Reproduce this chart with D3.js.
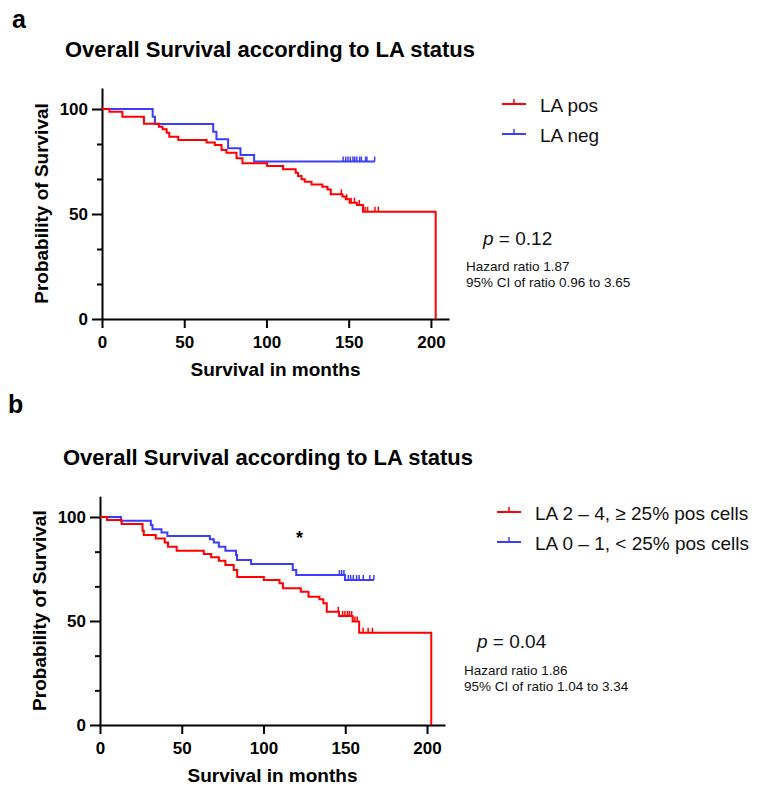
<!DOCTYPE html>
<html>
<head>
<meta charset="utf-8">
<script src="https://cdn.jsdelivr.net/npm/d3@7"></script>
<style>
  html, body { margin: 0; padding: 0; background: #fff; }
  svg { display: block; font-family: "Liberation Sans", Arial, sans-serif; }
</style>
</head>
<body>
<svg id="chart" width="758" height="794"></svg>
<script>
// ---------------- DATA ----------------
const xTicks = [0, 50, 100, 150, 200];
const yTicks = [0, 50, 100];
const yMinorTicks = [16.67, 33.33, 66.67, 83.33];

// Panel a — LA pos (red)
const aPosTimes = [0, 4.5, 12.4, 25.5, 34.6, 36.8, 39.3, 40.9, 46.4, 63.6, 68.6, 72.7, 75.7, 81.8, 85.4, 100.4, 110.1, 117.8, 119.2, 121.3, 123.3, 127.4, 134, 137.1, 139.1, 146.2, 148.2, 150.6, 155, 158.7, 202.9];
const aPosSurv  = [100, 98.7, 96.3, 93.0, 91.6, 90.3, 88.7, 86.8, 85.2, 84.1, 82.9, 80.5, 79.2, 76.5, 74.2, 72.9, 71.3, 69.7, 68.1, 66.5, 65.4, 64.1, 63.0, 61.7, 59.4, 58.3, 57.0, 55.4, 54.3, 51.1, 0];
const aPosCensor = [145.5, 148.8, 151.5, 153.5, 156.5, 160, 161.5, 166, 168];
// Panel a — LA neg (blue)
const aNegTimes = [0, 30.8, 32.2, 67.6, 69.6, 76.7, 84.2, 92.5];
const aNegSurv  = [100, 96.3, 92.9, 89.2, 85.6, 81.3, 78.1, 75.0];
const aNegEnd = 165.8;
const aNegCensor = [146.6, 148.2, 149.6, 151, 152.6, 153.7, 155, 156.7, 157.7, 160.3, 161.1, 165.8];

// Panel b — LA 2–4 (red)
const bPosTimes = [0, 4.3, 13.2, 26, 26.8, 34.1, 39.6, 41.6, 46.9, 63.5, 68, 72.7, 76.7, 81.8, 83.9, 100.2, 109.8, 111.9, 122.8, 127.5, 134.2, 136.6, 138.7, 146.2, 154.5, 158.5, 202.6];
const bPosSurv  = [100, 98.6, 96.6, 93.4, 91.3, 89.7, 87.7, 85.7, 83.8, 82.2, 80.6, 79.0, 76.9, 74.5, 71.1, 69.7, 68.1, 65.7, 64.1, 61.7, 60.4, 58.5, 54.5, 52.4, 49.7, 44.4, 0];
const bPosCensor = [145.7, 148.4, 149.8, 151.3, 152.5, 153.9, 155.9, 157.3, 160.9, 164, 166.6];
// Panel b — LA 0–1 (blue)
const bNegTimes = [0, 12.8, 31.1, 32.1, 37.6, 41.2, 67.2, 69.6, 72.7, 76.7, 83.2, 83.8, 92.4, 117.9, 120, 149.8];
const bNegSurv  = [100, 98.2, 96.2, 94.1, 92.5, 90.9, 89.3, 87.7, 85.7, 83.8, 81.7, 79.3, 77.4, 74.5, 72.1, 69.7];
const bNegEnd = 167.5;
const bNegCensor = [146.4, 147.8, 149.2, 151.9, 153.3, 154.9, 156.9, 158.5, 161, 165, 167.5];

const panelLabels = ["a", "b"];
const titles = ["Overall Survival according to LA status", "Overall Survival according to LA status"];
const legendA = ["LA pos", "LA neg"];
const legendB = ["LA 2 \u2013 4, \u2265 25% pos cells", "LA 0 \u2013 1, < 25% pos cells"];
const pValues = ["0.12", "0.04"];
const hazardTexts = ["Hazard ratio 1.87", "Hazard ratio 1.86"];
const ciTexts = ["95% CI of ratio 0.96 to 3.65", "95% CI of ratio 1.04 to 3.34"];

// ---------------- DRAW ----------------
const RED = "#ff0000", BLUE = "#3c3cff";
const svg = d3.select("#chart");
const FONT = '"Liberation Sans", Arial, sans-serif';

function panel(cfg) {
  const x = d3.scaleLinear().domain([0, 211]).range([cfg.x0, cfg.x1]);
  const y = d3.scaleLinear().domain([0, 110]).range([cfg.y0, cfg.y0 - (cfg.y0 - cfg.y100) * 1.1]);
  const g = svg.append("g");

  // panel letter and title
  svg.append("text").attr("x", cfg.letterX).attr("y", cfg.letterY)
    .attr("font-size", 25).attr("font-weight", "bold").text(cfg.letter);
  svg.append("text").attr("x", cfg.titleX).attr("y", cfg.titleY)
    .attr("font-size", 22).attr("font-weight", "bold").text(cfg.title);

  // axes
  const xAxis = d3.axisBottom(x).tickValues(xTicks).tickSize(9).tickSizeOuter(0).tickPadding(8);
  const gx = g.append("g").attr("transform", `translate(0,${cfg.y0})`).call(xAxis);
  const yAxis = d3.axisLeft(y).tickValues(yTicks).tickSize(10).tickSizeOuter(0).tickPadding(4);
  const gy = g.append("g").attr("transform", `translate(${cfg.x0},0)`).call(yAxis);
  const yMinor = d3.axisLeft(y).tickValues(yMinorTicks).tickSize(5).tickSizeOuter(0).tickFormat("");
  const gym = g.append("g").attr("transform", `translate(${cfg.x0},0)`).call(yMinor);
  gym.select(".domain").remove();
  [gx, gy, gym].forEach(a => {
    a.selectAll("path, line").attr("stroke", "#000").attr("stroke-width", 2);
    a.selectAll("text").attr("font-size", 17).attr("font-weight", "bold")
      .attr("fill", "#000").attr("font-family", FONT);
  });

  // axis titles
  g.append("text").attr("x", (cfg.x0 + cfg.x1) / 2).attr("y", cfg.y0 + 57)
    .attr("text-anchor", "middle").attr("font-size", 19).attr("font-weight", "bold")
    .text("Survival in months");
  g.append("text")
    .attr("transform", `translate(${cfg.x0 - 54},${y(55)}) rotate(-90)`)
    .attr("text-anchor", "middle").attr("font-size", 19).attr("font-weight", "bold")
    .text("Probability of Survival");

  const line = d3.line().x(d => x(d[0])).y(d => y(d[1])).curve(d3.curveStepAfter);
  function stepAt(times, surv, t) {
    let s = surv[0];
    for (let i = 0; i < times.length; i++) if (times[i] <= t) s = surv[i];
    return s;
  }
  function series(times, surv, end, censor, color) {
    const pts = times.map((t, i) => [t, surv[i]]);
    if (end != null) pts.push([end, surv[surv.length - 1]]);
    g.append("path").attr("d", line(pts)).attr("fill", "none")
      .attr("stroke", color).attr("stroke-width", 2).attr("stroke-linejoin", "miter");
    g.selectAll(null).data(censor).enter().append("line")
      .attr("x1", d => x(d)).attr("x2", d => x(d))
      .attr("y1", d => y(stepAt(times, surv, d)))
      .attr("y2", d => y(stepAt(times, surv, d)) - 5)
      .attr("stroke", color).attr("stroke-width", 1.5);
  }
  series(cfg.neg.t, cfg.neg.s, cfg.neg.end, cfg.neg.c, BLUE);
  series(cfg.pos.t, cfg.pos.s, null, cfg.pos.c, RED);

  // legend
  cfg.legend.forEach((lab, i) => {
    const ly = cfg.legY + i * 30;
    const col = i === 0 ? RED : BLUE;
    svg.append("line").attr("x1", cfg.legX).attr("x2", cfg.legX + 24)
      .attr("y1", ly).attr("y2", ly).attr("stroke", col).attr("stroke-width", 2);
    svg.append("line").attr("x1", cfg.legX + 12).attr("x2", cfg.legX + 12)
      .attr("y1", ly).attr("y2", ly - 5).attr("stroke", col).attr("stroke-width", 1.5);
    svg.append("text").attr("x", cfg.legX + 38).attr("y", ly + 8)
      .attr("font-size", 19).attr("fill", "#111").text(lab);
  });

  // statistics
  const pt = svg.append("text").attr("x", cfg.pX).attr("y", cfg.pY).attr("font-size", 19).attr("fill", "#111");
  pt.append("tspan").attr("font-style", "italic").text("p");
  pt.append("tspan").text(" = " + cfg.p);
  svg.append("text").attr("x", cfg.hX).attr("y", cfg.hY).attr("font-size", 13.5).attr("fill", "#111").text(cfg.hz);
  svg.append("text").attr("x", cfg.hX).attr("y", cfg.hY + 15.5).attr("font-size", 13.5).attr("fill", "#111").text(cfg.ci);

  return { x, y };
}

panel({
  letter: panelLabels[0], letterX: 12, letterY: 28, title: titles[0], titleX: 65, titleY: 57,
  x0: 102, x1: 449, y0: 319, y100: 109,
  pos: { t: aPosTimes, s: aPosSurv, c: aPosCensor },
  neg: { t: aNegTimes, s: aNegSurv, end: aNegEnd, c: aNegCensor },
  legend: legendA, legX: 502, legY: 104,
  p: pValues[0], pX: 483, pY: 245, hz: hazardTexts[0], ci: ciTexts[0], hX: 466, hY: 271
});

const pb = panel({
  letter: panelLabels[1], letterX: 8, letterY: 413, title: titles[1], titleX: 63, titleY: 465,
  x0: 100, x1: 445, y0: 725, y100: 517,
  pos: { t: bPosTimes, s: bPosSurv, c: bPosCensor },
  neg: { t: bNegTimes, s: bNegSurv, end: bNegEnd, c: bNegCensor },
  legend: legendB, legX: 497, legY: 512,
  p: pValues[1], pX: 477, pY: 648, hz: hazardTexts[1], ci: ciTexts[1], hX: 464, hY: 675
});

// significance star in panel b
svg.append("text").attr("x", pb.x(122)).attr("y", 544)
  .attr("text-anchor", "middle").attr("font-size", 18).attr("font-weight", "bold").text("*");
</script>
</body>
</html>
